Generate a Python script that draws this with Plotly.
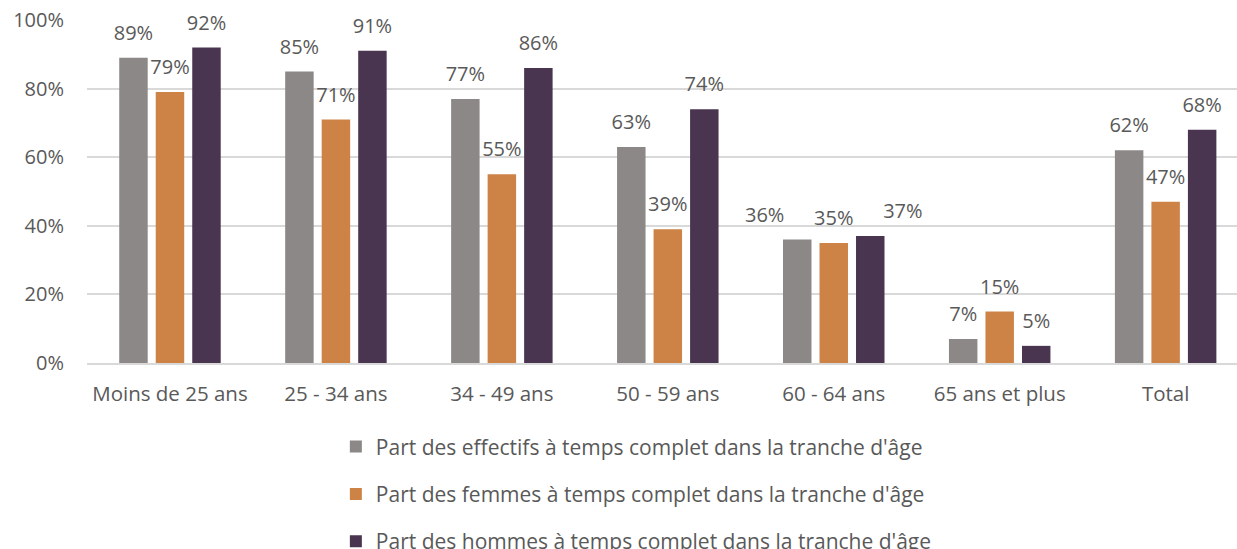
import plotly.graph_objects as go

categories = ["Moins de 25 ans", "25 - 34 ans", "34 - 49 ans", "50 - 59 ans", "60 - 64 ans", "65 ans et plus", "Total"]
effectifs = [89, 85, 77, 63, 36, 7, 62]
femmes = [79, 71, 55, 39, 35, 15, 47]
hommes = [92, 91, 86, 74, 37, 5, 68]
series_names = [
    "Part des effectifs à temps complet dans la tranche d'âge",
    "Part des femmes à temps complet dans la tranche d'âge",
    "Part des hommes à temps complet dans la tranche d'âge",
]
colors = ["#8C8887", "#CE8346", "#4A3550"]

FONT = "Open Sans"
TXT = "#595959"
FS = 20

# label placement (the 60-64 labels are spread apart to avoid overlap, as in the source)
label_pos = [
    ["top center"] * 4 + ["top left"] + ["top center"] * 2,
    ["top center"] * 7,
    ["top center"] * 4 + ["top right"] + ["top center"] * 2,
]

fig = go.Figure()
series = [effectifs, femmes, hommes]
for i, (name, vals) in enumerate(zip(series_names, series)):
    fig.add_trace(go.Bar(
        x=categories, y=[v / 100 for v in vals], name=name,
        marker=dict(color=colors[i], line=dict(width=0)),
        legendgroup=f"g{i}", offsetgroup=f"o{i}", hoverinfo="skip",
    ))
# data labels, grouped like the bars
for i, (name, vals) in enumerate(zip(series_names, series)):
    fig.add_trace(go.Scatter(
        x=categories, y=[v / 100 for v in vals], mode="markers+text",
        text=[f"{v}%" for v in vals], textposition=label_pos[i],
        textfont=dict(family=FONT, size=FS, color=TXT),
        marker=dict(size=19, opacity=0, color=colors[i]),
        cliponaxis=False, showlegend=False, offsetgroup=f"o{i}", hoverinfo="skip",
    ))

fig.update_layout(
    width=1237, height=549,
    margin=dict(l=87, r=0, t=20, b=186, autoexpand=False),
    paper_bgcolor="white", plot_bgcolor="white",
    barmode="group", bargap=0.34, bargroupgap=0.22,
    scattermode="group", scattergap=0.34,
    font=dict(family=FONT, size=FS, color=TXT),
    showlegend=True,
    legend=dict(orientation="v", x=0.2164, xanchor="left", y=-0.185, yanchor="top",
                font=dict(family=FONT, size=21, color=TXT), tracegroupgap=17,
                itemwidth=30),
)
fig.update_yaxes(range=[0, 1], tickvals=[0, 0.2, 0.4, 0.6, 0.8, 1.0], tickformat=".0%",
                 showgrid=True, gridcolor="#D9D9D9", gridwidth=1.5, zeroline=False,
                 showline=False, ticks="", ticklabelstandoff=22, automargin=False,
                 tickfont=dict(family=FONT, size=FS, color=TXT))
fig.update_xaxes(range=[-0.5, 6.43], showline=True, linecolor="#D9D9D9", linewidth=1.5,
                 ticks="", ticklabelstandoff=12, automargin=False,
                 tickfont=dict(family=FONT, size=20.5, color=TXT))

fig.write_html("out.html", config={"displayModeBar": False},
               post_script="document.body.style.margin='0';")
